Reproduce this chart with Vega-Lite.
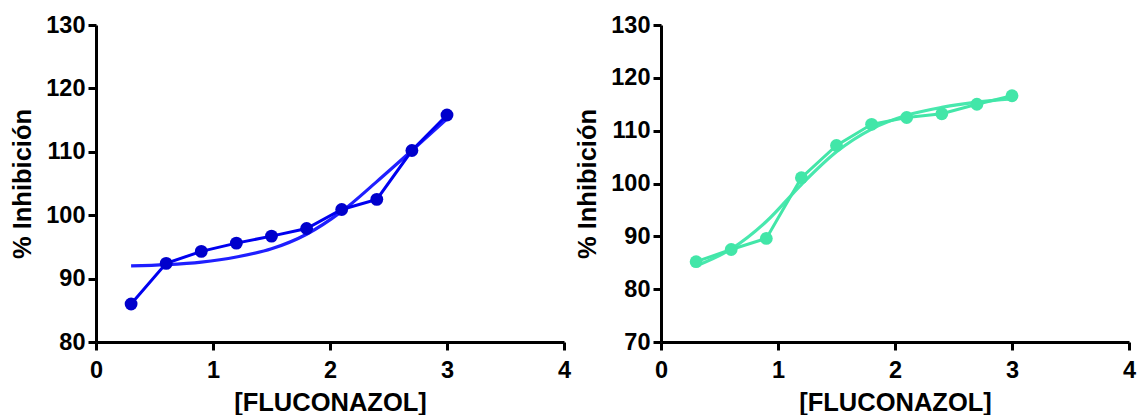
{
  "$schema": "https://vega.github.io/schema/vega-lite/v6.json",
  "background": "white",
  "padding": {"left": 10, "top": 13, "right": 5, "bottom": 0},
  "bounds": "flush",
  "spacing": 97,
  "datasets": {
    "left_data": [
      {"x": 0.3, "y": 86.0}, {"x": 0.6, "y": 92.4}, {"x": 0.9, "y": 94.3}, {"x": 1.2, "y": 95.6}, {"x": 1.5, "y": 96.7},
      {"x": 1.8, "y": 97.9}, {"x": 2.1, "y": 100.9}, {"x": 2.4, "y": 102.5}, {"x": 2.7, "y": 110.2}, {"x": 3.0, "y": 115.8}
    ],
    "left_fit": [
      {"x": 0.3, "y": 92.0}, {"x": 0.6, "y": 92.2}, {"x": 0.9, "y": 92.6}, {"x": 1.2, "y": 93.4}, {"x": 1.5, "y": 94.7},
      {"x": 1.8, "y": 97.0}, {"x": 2.1, "y": 100.6}, {"x": 2.4, "y": 105.3}, {"x": 2.7, "y": 110.2}, {"x": 3.0, "y": 115.2}
    ],
    "right_data": [
      {"x": 0.3, "y": 85.2}, {"x": 0.6, "y": 87.5}, {"x": 0.9, "y": 89.6}, {"x": 1.2, "y": 101.1}, {"x": 1.5, "y": 107.2},
      {"x": 1.8, "y": 111.2}, {"x": 2.1, "y": 112.5}, {"x": 2.4, "y": 113.2}, {"x": 2.7, "y": 115.0}, {"x": 3.0, "y": 116.6}
    ],
    "right_fit": [
      {"x": 0.3, "y": 84.4}, {"x": 0.6, "y": 87.6}, {"x": 0.9, "y": 92.8}, {"x": 1.2, "y": 99.8}, {"x": 1.5, "y": 106.0},
      {"x": 1.8, "y": 110.3}, {"x": 2.1, "y": 112.9}, {"x": 2.4, "y": 114.4}, {"x": 2.7, "y": 115.4}, {"x": 3.0, "y": 116.0}
    ]
  },
  "config": {
    "view": {"stroke": null},
    "font": "Liberation Sans",
    "axis": {
      "grid": false,
      "domainColor": "black",
      "domainWidth": 3,
      "tickColor": "black",
      "tickWidth": 3,
      "tickSize": 8,
      "labelFont": "Liberation Sans",
      "labelFontWeight": "bold",
      "labelFontSize": 23.5,
      "labelColor": "black",
      "labelFlush": false,
      "labelOverlap": false,
      "titleFont": "Liberation Sans",
      "titleFontWeight": "bold",
      "titleFontSize": 25.5,
      "titleColor": "black"
    },
    "axisX": {"labelPadding": 8, "titlePadding": 9, "format": "d"},
    "axisY": {"labelPadding": 3, "titlePadding": 10, "format": "d"}
  },
  "hconcat": [
    {
      "width": 468,
      "height": 317,
      "layer": [
        {
          "data": {"name": "left_fit"},
          "mark": {"type": "line", "interpolate": "monotone", "color": "#1f1fff", "strokeWidth": 3.2},
          "encoding": {
            "x": {"field": "x", "type": "quantitative", "scale": {"domain": [0, 4], "nice": false}, "axis": {"values": [0, 1, 2, 3, 4], "title": "[FLUCONAZOL]"}},
            "y": {"field": "y", "type": "quantitative", "scale": {"domain": [80, 130], "nice": false, "zero": false}, "axis": {"values": [80, 90, 100, 110, 120, 130], "title": "% Inhibición"}}
          }
        },
        {
          "data": {"name": "left_data"},
          "mark": {"type": "line", "color": "#0000f0", "strokeWidth": 3},
          "encoding": {
            "x": {"field": "x", "type": "quantitative"},
            "y": {"field": "y", "type": "quantitative"}
          }
        },
        {
          "data": {"name": "left_data"},
          "mark": {"type": "circle", "color": "#0000cc", "size": 165, "opacity": 1},
          "encoding": {
            "x": {"field": "x", "type": "quantitative"},
            "y": {"field": "y", "type": "quantitative"}
          }
        }
      ]
    },
    {
      "width": 468,
      "height": 317,
      "layer": [
        {
          "data": {"name": "right_fit"},
          "mark": {"type": "line", "interpolate": "monotone", "color": "#48e8ae", "strokeWidth": 3.2},
          "encoding": {
            "x": {"field": "x", "type": "quantitative", "scale": {"domain": [0, 4], "nice": false}, "axis": {"values": [0, 1, 2, 3, 4], "title": "[FLUCONAZOL]"}},
            "y": {"field": "y", "type": "quantitative", "scale": {"domain": [70, 130], "nice": false, "zero": false}, "axis": {"values": [70, 80, 90, 100, 110, 120, 130], "title": "% Inhibición"}}
          }
        },
        {
          "data": {"name": "right_data"},
          "mark": {"type": "line", "color": "#42e6a8", "strokeWidth": 3},
          "encoding": {
            "x": {"field": "x", "type": "quantitative"},
            "y": {"field": "y", "type": "quantitative"}
          }
        },
        {
          "data": {"name": "right_data"},
          "mark": {"type": "circle", "color": "#42e6a8", "size": 165, "opacity": 1},
          "encoding": {
            "x": {"field": "x", "type": "quantitative"},
            "y": {"field": "y", "type": "quantitative"}
          }
        }
      ]
    }
  ]
}
